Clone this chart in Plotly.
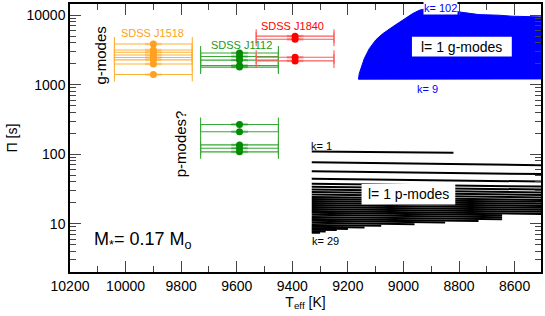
import plotly.graph_objects as go

# ---------------- data ----------------
# observed stars (Teff, error, periods in s)
j1518_teff = 9900
j1518_err = 140
j1518_periods = [1400, 1990, 2280, 2460, 2680, 2930, 3160, 3850]

j1112_teff = 9590
j1112_err = 140
j1112_periods_g = [1793, 1885, 2259, 2540, 2856]
j1112_periods_p = [108, 122, 136, 210, 268]

j1840_teff = 9390
j1840_err = 140
j1840_periods = [2200, 2480, 4500, 5000]

# l=1 g-mode model region envelope (k=102 upper edge, k=9 lower edge)
gmode_T_top = [9162, 9159, 9141, 9123, 9099, 9075, 9039, 9003, 8967, 8943, 8919, 8871, 8800, 8728, 8656, 8609, 8505]
gmode_P_top = [1200, 1450, 2375, 3302, 4438, 5407, 6807, 8568, 10541, 11786, 12427, 12200, 11146, 10199, 10000, 9676, 9456]
gmode_T_bot = [8505, 9162]
gmode_P_bot = [1210, 1200]

# l=1 p-mode model lines, k = 1..29
pmode_k = list(range(1, 30))
pmode_T_start = 9330
pmode_P_start = [109.6, 76.4, 56.8, 44.4, 37.6, 34.1, 30.9, 28.5, 26.2, 24.1, 22.6, 21.2, 19.8, 18.6,
                 17.4, 16.3, 15.2, 14.3, 13.4, 12.5, 11.7, 11.0, 10.3, 9.6, 9.0, 8.6, 8.2, 7.8, 7.4]
pmode_T_end = [8820, 8505, 8505, 8505, 8505, 8505, 8505, 8505, 8505, 8505, 8505, 8505, 8505, 8505,
               8505, 8505, 8505, 8645, 8645, 8645, 8730, 8850, 8960, 9080, 9140, 9200, 9240, 9280, 9300]
pmode_P_end = [105.0, 69.5, 51.7, 40.4, 34.2, 31.0, 28.1, 25.9, 23.8, 21.9, 20.6, 19.3, 18.0, 16.9,
               15.8, 14.8, 13.8, 13.2, 12.4, 11.6, 10.9, 10.4, 9.8, 9.3, 8.8, 8.4, 8.1, 7.7, 7.4]

x_ticks = [10200, 10000, 9800, 9600, 9400, 9200, 9000, 8800, 8600]
y_ticks = [10, 100, 1000, 10000]

# ---------------- figure ----------------
FONT = "Liberation Sans, Arial, sans-serif"
fig = go.Figure()

# g-mode region
fig.add_trace(go.Scatter(
    x=gmode_T_top + gmode_T_bot, y=gmode_P_top + gmode_P_bot,
    mode="lines", fill="toself", fillcolor="#0000ff",
    line=dict(color="#0000ff", width=1), hoverinfo="skip", showlegend=False))

# p-mode lines
px, py = [], []
for i in range(len(pmode_k)):
    px += [pmode_T_start, pmode_T_end[i], None]
    py += [pmode_P_start[i], pmode_P_end[i], None]
fig.add_trace(go.Scatter(x=px, y=py, mode="lines", line=dict(color="black", width=2),
                         hoverinfo="skip", showlegend=False))


def star(teff, err, periods, dot, line, band):
    n = len(periods)
    xs = [teff] * n
    fig.add_trace(go.Scatter(
        x=xs, y=periods, mode="markers", marker=dict(size=0.1, color=line),
        error_x=dict(type="constant", value=err, color=line, thickness=1.1, width=7),
        showlegend=False, hoverinfo="skip"))
    fig.add_trace(go.Scatter(
        x=xs, y=periods, mode="markers", marker=dict(size=7, color=dot),
        error_x=dict(type="constant", value=30, color=band, thickness=2.5, width=0),
        showlegend=False, hoverinfo="skip"))


star(j1518_teff, j1518_err, j1518_periods, "#ffa020", "#ffb238", "rgba(255,170,40,0.45)")
star(j1112_teff, j1112_err, j1112_periods_g, "#008c00", "#38a838", "rgba(0,140,0,0.4)")
star(j1112_teff, j1112_err, j1112_periods_p, "#008c00", "#38a838", "rgba(0,140,0,0.4)")
star(j1840_teff, j1840_err, j1840_periods, "#ff0000", "#ff5a5a", "rgba(255,60,60,0.45)")

# white label boxes
shapes = [
    dict(type="rect", xref="paper", yref="paper", x0=0.726, x1=0.938, y0=0.804, y1=0.878,
         fillcolor="white", line=dict(width=0)),
    dict(type="rect", xref="paper", yref="paper", x0=0.619, x1=0.818, y0=0.252, y1=0.3285,
         fillcolor="white", line=dict(width=0)),
]


def ann(text, x, y, size, color="black", **kw):
    d = dict(text=text, x=x, y=y, xref="paper", yref="paper", showarrow=False,
             font=dict(family=FONT, size=size, color=color), xanchor="center", yanchor="middle")
    d.update(kw)
    return d


annotations = [
    ann("SDSS J1518", 0.1758, 0.8926, 11, "#ffa020"),
    ann("SDSS J1112", 0.3638, 0.847, 11, "#1a9a1a"),
    ann("SDSS J1840", 0.4725, 0.9174, 11, "#ff0000"),
    ann("g-modes", 0.0657, 0.8074, 15, textangle=-90),
    ann("p-modes?", 0.2352, 0.4796, 15, textangle=-90),
    ann("l= 1 g-modes", 0.832, 0.841, 14),
    ann("l= 1 p-modes", 0.7182, 0.2915, 14),
    ann("k= 102", 0.7875, 0.985, 11, "#0000ff", bgcolor="white", borderpad=0),
    ann("k= 9", 0.7585, 0.6826, 11, "#0000ff"),
    ann("k= 1", 0.5339, 0.4704, 11),
    ann("k= 29", 0.5424, 0.1148, 11),
    ann("M<sub>*</sub>= 0.17 M<sub>o</sub>", 0.0466, 0.1185, 18, xanchor="left"),
]

minor_y = [m * 10 ** d for d in range(0, 5) for m in range(2, 10)]

fig.update_layout(
    width=545, height=316,
    margin=dict(l=70, r=3, t=2, b=44),
    paper_bgcolor="white", plot_bgcolor="white",
    font=dict(family=FONT, size=14, color="black"),
    shapes=shapes, annotations=annotations,
    xaxis=dict(range=[10200, 8505], tickvals=x_ticks, ticktext=[str(v) for v in x_ticks],
               ticks="inside", ticklen=11, tickwidth=1,
               showline=True, linecolor="black", linewidth=1.5, mirror="ticks", showgrid=False,
               zeroline=False, tickfont=dict(size=14),
               minor=dict(ticks="inside", ticklen=6, dtick=100, tick0=8500, showgrid=False),
               title=dict(text="T<sub>eff</sub> [K]", font=dict(size=14), standoff=4)),
    yaxis=dict(type="log", range=[0.3043, 4.1614], tickvals=y_ticks,
               ticktext=[str(v) for v in y_ticks], ticks="inside", ticklen=11, tickwidth=1,
               showline=True, linecolor="black", linewidth=1.5, mirror="ticks", showgrid=False,
               zeroline=False, tickfont=dict(size=14),
               minor=dict(ticks="inside", ticklen=6, tickvals=minor_y, showgrid=False),
               title=dict(text="Π [s]", font=dict(size=14), standoff=6)),
)

fig.write_html("out.html", config={"displayModeBar": False},
               post_script="document.body.style.margin='0';document.body.style.overflow='hidden';")
